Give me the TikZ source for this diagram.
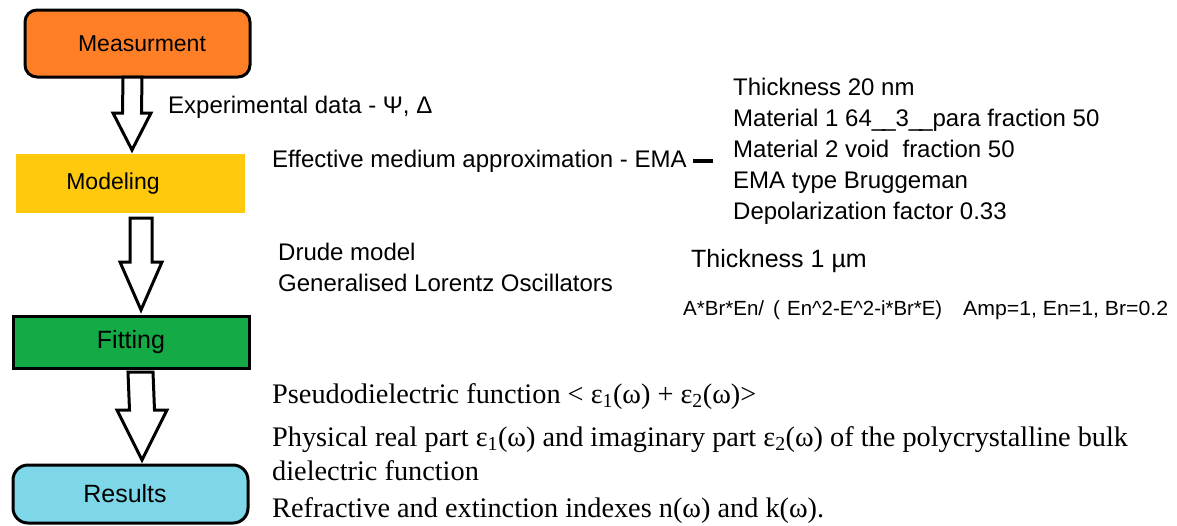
\documentclass[tikz,border=0pt]{standalone}
\usepackage{fontspec}
\setmainfont{Liberation Serif}
\newfontfamily\arialf{Liberation Sans}
\usetikzlibrary{calc}
\definecolor{measorange}{RGB}{255,127,39}
\definecolor{modgold}{RGB}{255,201,14}
\definecolor{fitgreen}{RGB}{20,170,70}
\definecolor{rescyan}{RGB}{125,215,232}
\tikzset{
  flowbox/.style={draw=black, line width=3pt, minimum width=#1, inner sep=0pt, font=\arialf\fontsize{23}{26}\selectfont},
  sanstext/.style={anchor=base west, inner sep=0pt, font=\arialf\fontsize{24}{28}\selectfont},
  seriftext/.style={anchor=base west, inner sep=0pt, font=\fontsize{28.3}{32}\selectfont},
  blockarr/.style={draw=black, fill=white, line width=3pt, line join=miter},
}
\newcommand\blockarrow[5]{%
  \draw[blockarr] ($(#1)+(-#3,0)$) -- ($(#1)+(#3,0)$) -- ($(#2)+(#3,-#5)$) -- ($(#2)+(#4,-#5)$) -- (#2) -- ($(#2)+(-#4,-#5)$) -- ($(#2)+(-#3,-#5)$) -- cycle;}
\begin{document}
\begin{tikzpicture}[x=1pt,y=-1pt]
\useasboundingbox[fill=white] (0,0) rectangle (1177,525);
% boxes
\node[flowbox=225pt, minimum height=67pt, fill=measorange, rounded corners=12pt] (meas) at (137.5,43.5) {\hspace*{9pt}Measurment};
\node[flowbox=229pt, minimum height=59pt, fill=modgold, draw=none] (model) at (130.5,183.5) {\hspace*{-35pt}Modeling};
\node[flowbox=236pt, minimum height=52pt, fill=fitgreen, font=\arialf\fontsize{25}{28}\selectfont] (fit) at (131,342) {Fitting};
\node[flowbox=235pt, minimum height=58pt, fill=rescyan, rounded corners=15pt, font=\arialf\fontsize{25}{28}\selectfont] (res) at (130.5,494) {\hspace*{-11pt}Results};
% arrows
\coordinate (a1s) at (132.5,77);  \coordinate (a1t) at (132,150);
\coordinate (a2s) at (141,218);   \coordinate (a2t) at (141,310);
\coordinate (a3s) at (140.5,372); \coordinate (a3t) at (142,460);
\blockarrow{a1s}{a1t}{9.5}{19}{37}
\blockarrow{a2s}{a2t}{11}{21}{48}
\blockarrow{a3s}{a3t}{12.5}{25}{50}
% texts
\node[sanstext] (exp) at (168,113) {Experimental data - Ψ, Δ};
\node[sanstext] (ema) at (272,167) {Effective medium approximation - EMA};
\coordinate (d1) at (693,161); \coordinate (d2) at (713,161);
\draw[line width=3.5pt] (d1) -- (d2);
\node[sanstext] (l1) at (733,95) {Thickness 20 nm};
\node[sanstext] (l2) at (733,126) {Material 1 64\_\kern-3pt\_3\_\kern-3pt\_para fraction 50};
\node[sanstext] (l3) at (733,157) {Material 2 void\ \ fraction 50};
\node[sanstext] (l4) at (733,188) {EMA type Bruggeman};
\node[sanstext] (l5) at (733,219) {Depolarization factor 0.33};
\node[sanstext] (dr) at (278,260) {Drude model};
\node[sanstext] (gl) at (278,291) {Generalised Lorentz Oscillators};
\node[sanstext, font=\arialf\fontsize{25}{28}\selectfont] (th) at (691,267) {Thickness 1 µm};
\node[sanstext, font=\arialf\fontsize{20.5}{24}\selectfont] (fo) at (683,315) {\makebox[90pt][l]{\resizebox{81pt}{\height}{A*Br*En/}}\makebox[14pt][l]{(}\makebox[176pt][l]{\resizebox{155pt}{\height}{En\^{}2-E\^{}2-i*Br*E)}}\resizebox{205pt}{\height}{Amp=1, En=1, Br=0.2}};
\node[seriftext] (r1) at (272,403) {Pseudodielectric function < ε\textsubscript{1}(ω) + ε\textsubscript{2}(ω)>};
\node[seriftext] (r2) at (272,446) {Physical real part ε\textsubscript{1}(ω) and imaginary part ε\textsubscript{2}(ω) of the polycrystalline bulk};
\node[seriftext] (r3) at (272,480) {dielectric function};
\node[seriftext] (r4) at (272,517) {Refractive and extinction indexes n(ω) and k(ω).};
\end{tikzpicture}
\end{document}
